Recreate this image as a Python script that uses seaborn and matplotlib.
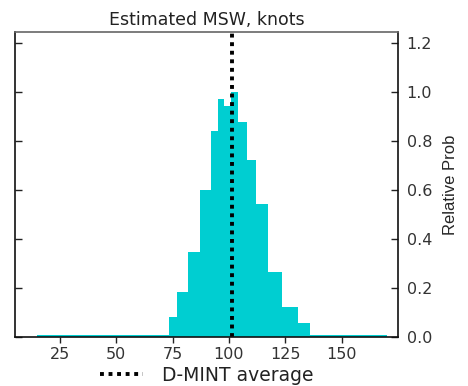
import numpy as np
import pandas as pd
import matplotlib
matplotlib.use("Agg")
import matplotlib.pyplot as plt
import seaborn as sns

# Bin edges (knots) and relative probabilities
bin_edges = [15, 73.5, 77, 82, 87, 92, 95, 98, 101, 104, 108, 112, 117.5, 123.5, 130.5, 136, 170]
rel_prob = [0.007, 0.08, 0.184, 0.346, 0.60, 0.841, 0.97, 0.944, 1.0, 0.879, 0.724, 0.541, 0.267, 0.122, 0.056, 0.01]
dmint_avg = 101.4
x_ticks = [25, 50, 75, 100, 125, 150]
y_ticks = [0.0, 0.2, 0.4, 0.6, 0.8, 1.0, 1.2]

sns.set_style("ticks")
plt.rcParams['font.family'] = ['DejaVu Sans']

centers = [(bin_edges[i] + bin_edges[i + 1]) / 2 for i in range(len(rel_prob))]
df = pd.DataFrame({"msw": centers, "prob": rel_prob})

fig = plt.figure(figsize=(4.68, 3.86), dpi=100)
ax = fig.add_axes([0.031, 0.127, 0.820, 0.790])

sns.histplot(data=df, x="msw", weights="prob", bins=bin_edges, stat="count",
             color="#00CED1", alpha=1.0, linewidth=0, ax=ax)
ax.axvline(dmint_avg, color="black", linestyle=(0, (1, 1.2)), linewidth=2.8,
           label="D-MINT average")

ax.set_xlim(5, 175)
ax.set_ylim(0, 1.245)
ax.set_xticks(x_ticks)
ax.set_yticks(y_ticks)
ax.set_yticklabels([f"{v:.1f}" for v in y_ticks])
ax.yaxis.tick_right()
ax.yaxis.set_label_position("right")
ax.tick_params(axis="y", which="both", left=True, right=True, direction="in",
               length=5, width=1, labelsize=11.5, color="#222222",
               labelcolor="#333333", pad=6)
ax.tick_params(axis="x", direction="out", length=4, width=1, labelsize=11.5,
               color="#222222", labelcolor="#333333", bottom=True, top=False)
ax.set_xlabel("")
ax.set_ylabel("Relative Prob", fontsize=12, family=["Liberation Sans"], labelpad=8)
ax.set_title("Estimated MSW, knots", fontsize=12.5, color="#222222", pad=5)
for side in ["left", "right", "bottom"]:
    ax.spines[side].set_visible(True)
    ax.spines[side].set_color("#111111")
    ax.spines[side].set_linewidth(1.2)
ax.spines["top"].set_visible(True)
ax.spines["top"].set_color("#666666")
ax.spines["top"].set_linewidth(1.2)

leg = ax.legend(loc="upper center", bbox_to_anchor=(0.5, -0.095), frameon=False,
                fontsize=13.5, handlelength=2.3, handletextpad=1.0,
                borderaxespad=0.0, borderpad=0.0)
for t in leg.get_texts():
    t.set_color("#222222")

fig.savefig("out.png", dpi=100)
